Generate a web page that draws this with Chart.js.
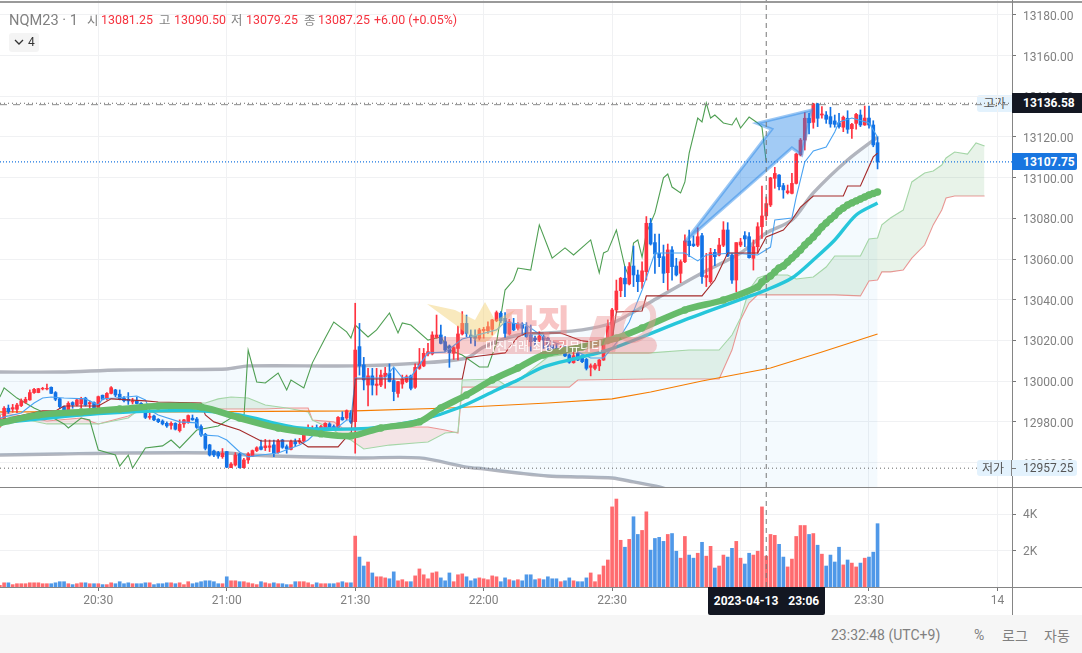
<!DOCTYPE html>
<html lang="ko">
<head>
<meta charset="utf-8">
<title>NQM23 1</title>
<script src="https://cdn.jsdelivr.net/npm/chart.js@4"></script>
<style>
  html, body { margin: 0; padding: 0; background: #fff; }
  body { width: 1082px; height: 653px; overflow: hidden; position: relative;
         font-family: Roboto, "Noto Sans CJK KR", sans-serif; color: #808080; }
  canvas { position: absolute; left: 0; }
  .abs { position: absolute; white-space: nowrap; }
  .rule { position: absolute; background: #858585; }
  .head { position: absolute; top: 12px; font-size: 12.4px; line-height: 16px; white-space: nowrap; }
  .red { color: #f5333f; }
  .gray { color: #808080; font-family: "Noto Sans CJK KR", Roboto, sans-serif; }
  .tag { position: absolute; font-size: 12px; line-height: 16px; white-space: nowrap; }
  .foot { position: absolute; top: 627px; font-size: 14px; line-height: 16px; color: #808080; white-space: nowrap; }
</style>
</head>
<body>
<div class="tag" id="highName" style="left:977px;width:35px;height:17px;background:#e3f2fd;border-radius:3px 0 0 3px;color:#555;text-align:center;font-family:'Noto Sans CJK KR'">고가</div>
<canvas id="priceCanvas" width="1082" height="487" style="top:0"></canvas>
<canvas id="volumeCanvas" width="1082" height="128" style="top:487px"></canvas>

<div class="rule" style="left:0;top:1px;width:1082px;height:2px;background:#9a9a9a"></div>
<div class="rule" style="left:0;top:487px;width:1082px;height:1px"></div>
<div class="rule" style="left:0;top:587px;width:1082px;height:1px"></div>
<div class="rule" style="left:1012px;top:0;width:1px;height:615px"></div>
<div class="abs" style="left:0;top:615px;width:1082px;height:38px;background:#f6f6f6"></div>

<div class="head" style="left:9px;font-size:14.6px;color:#808080">NQM23 · 1</div>
<div class="head gray" style="left:87px">시</div><div class="head red" style="left:101px">13081.25</div>
<div class="head gray" style="left:159px">고</div><div class="head red" style="left:174px">13090.50</div>
<div class="head gray" style="left:231px">저</div><div class="head red" style="left:246px">13079.25</div>
<div class="head gray" style="left:304px">종</div><div class="head red" style="left:318px">13087.25</div>
<div class="head red" style="left:374px">+6.00 (+0.05%)</div>
<div class="abs" style="left:9px;top:33px;width:30px;height:19px;background:#f4f4f4;border-radius:3px;font-size:12px;line-height:19px;color:#333">
  <svg width="10" height="7" style="position:absolute;left:5px;top:6px"><path d="M1 1 L5 5 L9 1" fill="none" stroke="#333" stroke-width="1.3"/></svg>
  <span style="position:absolute;left:19px">4</span>
</div>

<svg class="abs" width="240" height="62" style="left:425px;top:296px;opacity:.45;pointer-events:none">
  <path d="M2 8 L30 14 L50 24 L60 6 L70 24 L90 14 L70 38 L62 46 L52 46 L32 30 Z" fill="#f1cf6e"/>
  <path d="M160 56 L172 20 L186 20 L174 56 Z M176 56 L188 20 L202 20 L190 56 Z" fill="#ee9a9a"/>
  <ellipse cx="212" cy="26" rx="14" ry="20" fill="none" stroke="#ee9a9a" stroke-width="6" transform="rotate(35 212 26)"/>
</svg>
<div class="abs" style="left:504px;top:296px;font-size:36px;line-height:44px;font-weight:900;color:#f28b8b;opacity:.5;font-family:'Noto Sans CJK KR';transform:scaleY(1.2);transform-origin:top left">마진</div>
<div class="abs" style="left:430px;top:337px;width:227px;height:17px;border-radius:4px 9px 9px 4px;background:rgba(232,90,90,.3);color:#fff;font-size:12px;line-height:17px;text-align:center;font-family:'Noto Sans CJK KR'">마진거래 최강 커뮤니티</div>

<div class="tag" id="highTag" style="left:1012px;width:70px;height:20px;line-height:20px;background:#131722;color:#fff;font-weight:700;text-indent:11px">13136.58</div>
<div class="tag" id="lastTag" style="left:1012px;width:65px;height:17px;line-height:18px;background:#1976e0;color:#fff;font-weight:700;text-indent:11px;border-radius:0 2px 2px 0">13107.75</div>
<div class="tag" id="lowTag" style="left:977px;width:100px;height:16px;background:#e3f2fd;color:#555;border-radius:3px">
  <span style="position:absolute;left:5px;font-family:'Noto Sans CJK KR'">저가</span>
  <span style="position:absolute;left:34px;top:0;width:1px;height:16px;background:#858585"></span>
  <span style="position:absolute;left:35px;top:8px;width:4px;height:1px;background:#777"></span>
  <span style="position:absolute;left:46px">12957.25</span>
</div>
<div class="abs" style="left:708px;top:587px;width:117px;height:28px;line-height:28px;background:#131722;color:#fff;font-size:12px;font-weight:700;text-align:center;border-radius:0 0 2px 2px;word-spacing:7px">2023-04-13 23:06</div>

<div class="foot" style="left:831px">23:32:48 (UTC+9)</div>
<div class="foot" style="left:974px">%</div>
<div class="foot" style="left:1002px;font-family:'Noto Sans CJK KR'">로그</div>
<div class="foot" style="left:1044px;font-family:'Noto Sans CJK KR'">자동</div>

<script>
(function () {
  'use strict';

  // minutes counted from 20:30, one candle per minute
  var firstMinute = -23;
  var viewMin = -22.96;
  var viewMax = 213.4;

  var priceTicks = [13180, 13160, 13140, 13120, 13100, 13080, 13060, 13040, 13020, 13000, 12980, 12960];
  var volumeTicks = [2000, 4000];
  var volumeTickLabels = ['2K', '4K'];
  var timeTicks = [0, 30, 60, 90, 120, 150, 180, 210];
  var timeTickLabels = ['20:30', '21:00', '21:30', '22:00', '22:30', '23:00', '23:30', '14'];

  var candleOpen = [
    12978, 12980.1, 12986.7, 12986.3, 12986.2, 12988, 12989.6, 12990.8, 12994.4, 12994.4,
    12996.2, 12996.2, 12997, 12994.4, 12991.4, 12987.5, 12985.9, 12989.5, 12988.3, 12988.8,
    12991.7, 12988.8, 12989.5, 12986.2, 12993.1, 12991.6, 12994, 12995.7, 12993.6, 12991.6,
    12991.1, 12989.8, 12990.3, 12989.1, 12986.7, 12982.2, 12982.9, 12981.3, 12980.4, 12979.3,
    12978.3, 12979.3, 12975.7, 12979, 12980.1, 12981.8, 12981.4, 12977.7, 12973.9, 12968.7,
    12965.7, 12964.9, 12962.9, 12965.4, 12957.5, 12958.8, 12964.2, 12957.5, 12961.3, 12963.2,
    12965.9, 12967.8, 12967.3, 12967.5, 12968.7, 12964.9, 12971.1, 12967.8, 12966.5, 12970.3,
    12970.1, 12970.5, 12974.7, 12975.7, 12977.2, 12976, 12976, 12979, 12977.7, 12977.3,
    12982.2, 12981.9, 12984.5, 12980.1, 13017, 13008, 12998.1, 13002.6, 12997.9, 12998.1,
    13002.2, 13003.9, 13000.3, 12994, 12998.6, 12999.8, 13002.6, 12997, 13006.3, 13007.5,
    13013.4, 13013.4, 13021.5, 13022.7, 13019.4, 13017.3, 13013.7, 13016.1, 13023.2, 13028.4,
    13022.7, 13022.2, 13021.1, 13024.8, 13024.8, 13025.5, 13029.7, 13033.4, 13030.9, 13023.2,
    13028.4, 13026, 13028.1, 13026.8, 13022.7, 13021.1, 13020.2, 13021.9, 13021.1, 13017.8,
    13016.1, 13015, 13015.8, 13012.9, 13009.1, 13013.7, 13012.4, 13010.7, 13006.8, 13006.3,
    13007.5, 13010.4, 13018.6, 13019.9, 13035, 13044.5, 13050.6, 13047.8, 13056.6, 13052.2,
    13048.9, 13053.8, 13077.6, 13068.1, 13062.8, 13061.2, 13053.3, 13064.5, 13056.6, 13053,
    13058.7, 13068.9, 13067.4, 13066.8, 13071.5, 13051, 13048.9, 13063.3, 13062, 13066.8,
    13074.3, 13062, 13049.7, 13066.9, 13071.5, 13071, 13060.4, 13066.1, 13075.9, 13081.25,
    13086.6, 13099.7, 13101.3, 13096.1, 13092.6, 13092.3, 13097.2, 13111.2, 13118.5, 13129.2,
    13127.2, 13136.25, 13130.8, 13130.8, 13130, 13127.9, 13127, 13124.8, 13129.2, 13124.1,
    13126.7, 13130.8, 13125.9, 13129.3, 13125.9, 13117.2
  ];
  var candleHigh = [
    12983.4, 12987.5, 12988.3, 12988.6, 12989.1, 12991.3, 12992.1, 12995.7, 12996.5, 12996.5,
    12997, 12998.6, 12997.2, 12994.9, 12991.6, 12987.8, 12989.9, 12989.9, 12991.1, 12992.1,
    12992.1, 12990.3, 12989.8, 12992.7, 12993.2, 12994.4, 12997.3, 12996, 12995.7, 12992.4,
    12994.4, 12991.6, 12992.1, 12989.5, 12987.5, 12984.2, 12983.4, 12981.6, 12981, 12980,
    12980, 12979.6, 12981, 12981.3, 12983.4, 12983.4, 12982.2, 12978.5, 12974.4, 12969,
    12966.2, 12965.5, 12966.9, 12965.5, 12960, 12964.9, 12964.6, 12962.1, 12964.9, 12966.2,
    12967.8, 12971.1, 12971.4, 12971.1, 12971.1, 12971.4, 12971.4, 12968.7, 12971.1, 12971.6,
    12971.9, 12976, 12978.5, 12978, 12978.5, 12978.3, 12979.6, 12979.6, 12978.5, 12982.6,
    12985, 12985.9, 12985.5, 13038.3, 13028.4, 13011.7, 13006.3, 13006.3, 13006.3, 13005.5,
    13006.8, 13008.5, 13006.3, 12999.9, 13003, 13003, 13003, 13008.5, 13016.1, 13016.1,
    13018.6, 13024.3, 13032.5, 13027.6, 13021.9, 13017.8, 13017, 13027.1, 13034.2, 13032.5,
    13025.2, 13025.2, 13026, 13026.5, 13029.2, 13030.4, 13034.5, 13034.2, 13033.7, 13030.4,
    13030.9, 13028.8, 13028.8, 13028.8, 13027.6, 13022.2, 13024.3, 13022.7, 13021.5, 13019.4,
    13018.6, 13017.8, 13016.1, 13013.4, 13014.5, 13014, 13012.9, 13011.2, 13008.5, 13008.8,
    13010.7, 13020.6, 13030.1, 13035.8, 13049.7, 13051, 13056.3, 13058.3, 13066.4, 13054.6,
    13058.7, 13080.9, 13080, 13072.3, 13072.3, 13066.9, 13067.4, 13066.1, 13060.4, 13059.6,
    13071.9, 13074.3, 13071.4, 13075.4, 13072.7, 13062.8, 13065.3, 13064.8, 13070.2, 13078.4,
    13077.9, 13062.8, 13068.1, 13070.2, 13073.5, 13073, 13069.4, 13077.9, 13095.9, 13090.5,
    13100.2, 13105.1, 13101.5, 13097.2, 13096.4, 13102.1, 13112, 13119.3, 13132, 13131.6,
    13136.58, 13136.58, 13134.9, 13132.5, 13134.6, 13130.8, 13131.6, 13130.3, 13132.9, 13126.7,
    13131.6, 13133.3, 13135.2, 13135.2, 13128, 13120.2
  ];
  var candleLow = [
    12977.3, 12979.3, 12984.2, 12984.7, 12984.5, 12987.5, 12989.1, 12990.6, 12994, 12994.3,
    12995.7, 12995.7, 12993.9, 12990.4, 12986.7, 12984.2, 12985.5, 12986.7, 12987.8, 12986.7,
    12987.8, 12985.4, 12985.9, 12985.9, 12990.8, 12990.8, 12993.7, 12992.4, 12990.8, 12989.8,
    12988.6, 12988.8, 12988.8, 12985.4, 12981.6, 12981.3, 12980.6, 12979.6, 12978.5, 12977.3,
    12976.4, 12976, 12975, 12977.3, 12979.3, 12980.8, 12976.8, 12972.8, 12966.2, 12963.2,
    12962.9, 12962.1, 12962.1, 12957.5, 12957.5, 12958.3, 12957.25, 12957.25, 12959.6, 12962.9,
    12965.4, 12966.2, 12965.9, 12965.4, 12962.9, 12964.6, 12967, 12964.6, 12966.2, 12967.8,
    12969.2, 12970.1, 12974.1, 12974.4, 12975.7, 12975.4, 12975.7, 12975.7, 12976.4, 12976.8,
    12980.8, 12981, 12979.3, 12964.6, 13003, 12995.7, 12987.8, 12993.2, 12993.2, 12997.3,
    12996.5, 12999.6, 12990.4, 12992.1, 12996.5, 12999.3, 12995.7, 12996.5, 13005.8, 13007.1,
    13012.4, 13012.9, 13021.1, 13018.3, 13014.5, 13006.8, 13010.7, 13010.4, 13022.7, 13021.9,
    13018.6, 13017.3, 13020.2, 13021.1, 13023.5, 13022.7, 13029.2, 13028.8, 13021.5, 13022.7,
    13024.8, 13025.2, 13022.7, 13021.5, 13014.8, 13017.8, 13019.4, 13016.1, 13014.5, 13014,
    13013.4, 13013.4, 13012, 13008.8, 13008.8, 13010.1, 13009.1, 13005.5, 13002.6, 13005.5,
    13005.2, 13010.2, 13018.3, 13019.4, 13034.2, 13041.5, 13041.5, 13047.3, 13046.5, 13044,
    13045.6, 13049.7, 13066.9, 13053, 13056.3, 13048.4, 13044.8, 13049.7, 13051.7, 13048.4,
    13058.3, 13061.2, 13066.1, 13066.1, 13048.1, 13046.5, 13048.1, 13056.8, 13061.5, 13066.1,
    13061.2, 13048.1, 13044, 13066.1, 13066.1, 13060.4, 13054.6, 13062.8, 13070.2, 13079.25,
    13085.8, 13094.8, 13094, 13089.9, 13092, 13092, 13096.9, 13110.7, 13113.6, 13121.5,
    13124.3, 13125.1, 13129.2, 13126.7, 13124.8, 13124.8, 13124.3, 13122.6, 13121.8, 13119.3,
    13123.8, 13125.1, 13125.7, 13124.3, 13115.2, 13104.3
  ];
  var candleClose = [
    12981.8, 12986.7, 12985, 12987, 12988.3, 12990.3, 12991.1, 12994.4, 12996, 12996.3,
    12996.5, 12996.5, 12994, 12991.1, 12987.5, 12985.4, 12989.1, 12988.3, 12990.8, 12991.4,
    12988.3, 12989.5, 12986.2, 12992.4, 12991.1, 12994, 12996.8, 12993.2, 12991.1, 12990.4,
    12990.3, 12990.3, 12989, 12985.9, 12982.2, 12982.7, 12981, 12980.1, 12979, 12978,
    12979.3, 12976.4, 12978.8, 12981, 12983.1, 12981, 12977.3, 12973.6, 12967, 12963.7,
    12963.7, 12963.2, 12964.6, 12957.75, 12959.3, 12963.7, 12957.5, 12961.3, 12964.2, 12965.9,
    12967.3, 12966.5, 12968.2, 12968.2, 12964.6, 12970.6, 12967.5, 12966.7, 12970.3, 12969.2,
    12970.8, 12975.5, 12976.8, 12976.8, 12976.4, 12977.7, 12979.3, 12976.4, 12976.7, 12982.2,
    12981, 12985.5, 12979.9, 13015.3, 13007.5, 13000.6, 13002.6, 12998.1, 12998.6, 13003,
    13003.9, 12999.8, 12994.9, 12999.8, 13000.9, 13002.2, 12996.5, 13006.8, 13008.5, 13013.7,
    13014.5, 13022.7, 13022.7, 13018.6, 13015.3, 13014, 13016.5, 13023.2, 13028.4, 13023.5,
    13021.5, 13021.1, 13025.2, 13025.5, 13026.8, 13030.1, 13033.7, 13029.7, 13023.5, 13029.2,
    13025.2, 13027.9, 13026, 13021.9, 13019.4, 13019.9, 13022.2, 13020.2, 13017.8, 13016.1,
    13014, 13015.8, 13012.4, 13009.3, 13012.5, 13010.4, 13009.6, 13006.3, 13007.6, 13008,
    13010.4, 13018.6, 13027.1, 13035, 13044.3, 13050.6, 13047.8, 13056.3, 13052.2, 13048.9,
    13054.2, 13077.6, 13067.4, 13062.5, 13060.7, 13053, 13064.5, 13056.3, 13052.2, 13058.7,
    13068.9, 13066.6, 13066.6, 13071, 13051.4, 13051.9, 13063.2, 13061.2, 13066.9, 13074.3,
    13061.5, 13049.7, 13068.1, 13068.4, 13069.9, 13060.7, 13066.1, 13075.9, 13081.2, 13087.25,
    13099.9, 13102.1, 13095.6, 13094, 13093.5, 13097.2, 13111.6, 13118.5, 13129.2, 13127,
    13136.25, 13129.2, 13131.3, 13128.7, 13126.4, 13126.2, 13125.1, 13129.7, 13123.8, 13126.2,
    13131.1, 13125.9, 13129.3, 13125.9, 13116.1, 13107.75
  ];
  var volumes = [
    90, 230, 230, 130, 180, 180, 180, 230, 230, 230,
    180, 180, 180, 230, 290, 290, 180, 130, 180, 230,
    230, 180, 180, 180, 130, 130, 230, 180, 290, 180,
    230, 180, 180, 180, 230, 230, 130, 180, 180, 230,
    230, 180, 230, 130, 290, 180, 230, 290, 340, 340,
    290, 180, 180, 560, 340, 340, 290, 290, 230, 180,
    130, 290, 230, 180, 230, 180, 180, 130, 130, 290,
    290, 290, 230, 130, 230, 180, 180, 180, 180, 230,
    290, 230, 230, 2790, 1640, 1150, 1370, 770, 560, 560,
    500, 450, 830, 340, 400, 290, 290, 610, 990, 670,
    450, 770, 830, 500, 340, 770, 290, 670, 720, 560,
    340, 450, 500, 450, 400, 610, 560, 290, 500, 400,
    340, 400, 340, 670, 670, 400, 450, 400, 560, 450,
    450, 290, 340, 500, 340, 290, 290, 500, 770, 290,
    670, 1150, 1480, 4390, 4820, 2560, 2180, 2610, 3850, 2880,
    3100, 4120, 2020, 2660, 2720, 2500, 2880, 2930, 1960, 1580,
    2770, 1750, 1580, 1850, 2450, 1690, 2230, 1040, 1150, 1750,
    1640, 2120, 2500, 1580, 1260, 1850, 1750, 1960, 4390, 1690,
    2880, 2830, 2340, 1640, 1100, 1530, 2770, 3370, 3370, 2880,
    2930, 2290, 1800, 1150, 1750, 1370, 2180, 1210, 1480, 1310,
    1100, 1310, 1580, 1640, 1910, 3470
  ];

  var bandMinutes = [-23, -9, 5, 30, 35, 60, 75, 86, 90, 98, 105, 113, 120, 125, 131, 141, 150, 156, 162, 167, 175, 182];
  var bandUpper = [13004.5, 13004.5, 13005.5, 13006, 13007.5, 13007.5, 13008.9, 13011.4, 13016.8, 13022.7, 13023.7, 13025.2, 13028.6, 13034, 13041.4, 13053.2, 13063, 13072.8, 13079.2, 13092.5, 13108.7, 13120];
  var bandLower = [12963.7, 12964.2, 12964.7, 12964.7, 12963.7, 12962.3, 12962.3, 12957.8, 12956.9, 12954.9, 12953.4, 12952.9, 12952.4, 12950.5, 12948, 12941.6, 12935.7, 12932.8, 12930.8, 12927.9, 12926.9, 12927.9];

  var cloudMinutes = [-23, -12, -4, 0, 7, 10, 14, 25, 28, 31, 35, 39, 44, 49, 50, 55, 57, 59, 62, 68, 74, 77, 81, 84, 85, 93, 95, 99, 102, 105, 110, 112, 129, 138, 145, 148, 150, 152, 154, 156, 161, 163, 167, 170, 172, 178, 180, 182, 183, 185, 188, 190, 193, 195, 197, 198, 200, 203, 205, 207];
  var spanA = [12983.9, 12979, 12979, 12979, 12981.9, 12986.8, 12989.3, 12989.3, 12991.3, 12992.2, 12991.7, 12988.3, 12986.8, 12984.9, 12980.9, 12976, 12972.6, 12971.1, 12966.7, 12968.6, 12969.6, 12970.1, 12974.5, 12975, 13000.6, 13001.1, 12998.1, 13002.1, 13007, 13011.9, 13013.4, 13013.9, 13013.9, 13015.3, 13015.3, 13022.7, 13031.1, 13044.8, 13050.7, 13052.2, 13052.2, 13050.2, 13051.2, 13056.1, 13061.5, 13061.5, 13069.9, 13070.4, 13076.8, 13080.2, 13084.1, 13097.9, 13102.3, 13103.3, 13106.2, 13109.7, 13112.6, 13111.6, 13117.1, 13115.6];
  var spanB = [12984.9, 12980.4, 12981.9, 12979, 12982.9, 12985.8, 12989.3, 12986.3, 12986.3, 12986.3, 12986.3, 12986.3, 12986.8, 12986.8, 12980.9, 12980, 12977, 12977, 12977, 12977.5, 12977.5, 12977.5, 12976, 12974.5, 12997.1, 12997.1, 12997.1, 12997.1, 12997.1, 12997.1, 12997.1, 13000.6, 13001.1, 13001.1, 13001.1, 13015.3, 13030.1, 13038.4, 13042.4, 13042.4, 13042.4, 13042.4, 13042.4, 13042.4, 13042.4, 13041.9, 13049.2, 13049.7, 13053.7, 13053.7, 13054.6, 13060.5, 13066.9, 13076.8, 13084.1, 13090, 13091, 13091, 13091, 13091];

  var emaMinutes = [-23, -14, -4, 5, 14, 24, 33, 42, 52, 59, 66, 75, 80, 86, 92, 98, 104, 113, 121, 127, 137, 146, 154,
    155, 156, 157, 158, 159, 160, 161, 162, 163, 164, 165, 166, 167, 168, 169, 170, 171, 172, 173, 174, 175, 176, 177, 178, 179, 180, 181, 182];
  var emaGreen = [12979.5, 12983.4, 12984.9, 12986.3, 12987.8, 12987.3, 12981.9, 12977, 12974.1, 12973.1, 12977, 12980, 12986.8, 12993.2, 13000.6, 13006.5, 13012.9, 13016.8, 13021.2, 13026.1, 13035, 13039.9, 13046.3,
    13048.75, 13050.2, 13051.7, 13053.7, 13055.6, 13056.6, 13058.6, 13060.5, 13062.5, 13064.5, 13066.9, 13068.9, 13070.9, 13073.3, 13075.8, 13077.7, 13079.7, 13081.4, 13083.6, 13085.1, 13086.6, 13087.6, 13088.6, 13089.5, 13090.5, 13091.5, 13092.2, 13093];

  var emaCyanMinutes = [-23, -4, 14, 24, 33, 47, 60, 66, 76, 84, 93, 98, 104, 112, 119, 127, 137, 151, 156, 162, 167, 172, 177, 182];
  var emaCyan = [12979.5, 12983.4, 12985.4, 12985.4, 12983.4, 12977, 12976.5, 12977.5, 12981.4, 12986.8, 12995.7, 13000.6, 13007, 13011.4, 13015.3, 13021.7, 13030.1, 13040.9, 13044.8, 13050.7, 13059.6, 13069.4, 13081.7, 13087.6];

  var longMaMinutes = [-23, 19, 60, 82, 105, 120, 129, 141, 157, 169, 182];
  var longMa = [12984.9, 12984.9, 12985.4, 12986.8, 12989.3, 12991.3, 12994.7, 13000.1, 13006.5, 13014.3, 13023.2];

  var tenkanMinutes = [-23, -18, -15, -13, -11, -8, -3, 0, 1, 4, 9, 11, 12, 14, 19, 23, 24, 28, 30, 33, 35, 38, 42, 47, 49, 52, 56, 58, 59, 60, 64, 67, 69, 71, 73, 77, 81, 85, 93, 95, 100, 105, 110, 115, 118, 121, 124, 127, 130, 134, 137, 140, 142, 148, 154, 157, 158, 162, 163, 165, 167, 170, 172, 173, 176, 180, 182];
  var tenkan = [12981.9, 12984.4, 12989.3, 12991.7, 12992.2, 12991.7, 12991.3, 12988.3, 12991.3, 12991.7, 12992.7, 12990.8, 12985.8, 12983.4, 12980, 12979.5, 12973.6, 12973.1, 12971.1, 12965.2, 12962.8, 12963.7, 12964.7, 12968.6, 12971.1, 12977, 12977.5, 12980.9, 12980.9, 13001.6, 13001.6, 13001.6, 13007, 13001.6, 13002.1, 13013.9, 13014.3, 13020.7, 13025.2, 13029.1, 13027.6, 13020.2, 13016.3, 13011.4, 13011.4, 13018.8, 13029.1, 13044.8, 13063, 13063, 13063, 13059.1, 13062, 13063, 13062, 13065.9, 13079.2, 13080.2, 13090.5, 13107.7, 13113.1, 13115.1, 13122.5, 13127.4, 13129.3, 13126.9, 13120];

  var kijunMinutes = [-23, -13, -10, -8, 0, 3, 11, 14, 24, 25, 27, 33, 38, 47, 49, 56, 58, 59, 60, 85, 86, 89, 95, 98, 100, 108, 113, 118, 120, 121, 127, 128, 141, 144, 147, 154, 156, 160, 162, 164, 167, 174, 175, 178, 181, 182];
  var kijun = [12980.9, 12985.4, 12985.4, 12987.8, 12987.8, 12991.3, 12990.3, 12989.8, 12989.3, 12983.4, 12980, 12976, 12970.6, 12970.6, 12967.7, 12967.7, 12972.6, 12972.6, 13001.1, 13001.1, 13011.4, 13012.4, 13013.9, 13021.7, 13023.7, 13023.7, 13019.8, 13018.8, 13020.2, 13034, 13034.5, 13041.9, 13041.9, 13049.7, 13063, 13063, 13070.9, 13074.3, 13079.2, 13085.6, 13091, 13091, 13095.9, 13095.9, 13110.2, 13112.1];

  var chikouMinutes = [-23, -22, -19, -15, -13, -8, -7, -4, -2, 0, 4, 5, 7, 8, 11, 15, 17, 19, 23, 28, 31, 34, 35, 37, 39, 42, 44, 45, 48, 50, 53, 55, 58, 59, 60, 63, 65, 68, 70, 71, 73, 77, 80, 82, 85, 89, 91, 93, 95, 97, 98, 101, 103, 106, 109, 111, 115, 117, 118, 119, 121, 123, 124, 125, 126, 127, 128, 130, 132, 133, 134, 136, 137, 138, 140, 141, 142, 143, 144, 146, 148, 149, 150, 152, 154, 155, 156];
  var chikou = [12992.2, 12996.7, 12991.7, 12986.8, 12984.9, 12979, 12977, 12981.9, 12980.9, 12966.2, 12963.7, 12958.3, 12963.7, 12957.3, 12967.2, 12968.2, 12971.1, 12967.2, 12976, 12978, 12981.9, 12981.9, 13015.3, 12999.6, 12999.1, 13004, 12995.7, 13000.6, 12996.7, 13009, 13021.2, 13029.1, 13024.2, 13021.2, 13027.6, 13021.7, 13025.2, 13033.5, 13023.7, 13028.6, 13027.6, 13020.2, 13021.7, 13015.3, 13012.9, 13007, 13007, 13018.8, 13044.8, 13049.7, 13055.6, 13054.6, 13076.8, 13060.5, 13065.5, 13062, 13069.4, 13053.2, 13063, 13064, 13074.3, 13056.1, 13051.2, 13067.9, 13069.4, 13061, 13072.8, 13082.7, 13099.9, 13101.8, 13095.4, 13092.5, 13097.9, 13112.1, 13129.3, 13127.4, 13136.7, 13129.3, 13130.8, 13126.9, 13125.9, 13129.3, 13124.4, 13129.8, 13126.9, 13124.9, 13107.75];

  var arrowMinutes = [137, 157.3, 153.8, 166.6, 164.3, 162, 137];
  var arrowPrices = [13068.4, 13123.8, 13126.7, 13133.3, 13111.2, 13114.6, 13068.4];

  var highPrice = 13136.58;
  var lowPrice = 12957.25;
  var lastPrice = 13107.75;
  var crossMinute = 156;

  var UP = '#ff3340';
  var DOWN = '#1272e6';
  var GRID = '#f0f1f3';

  Chart.defaults.font.family = 'Roboto, sans-serif';
  Chart.defaults.font.size = 12;
  Chart.defaults.color = '#808080';
  Chart.defaults.animation = false;

  function toPoints(xs, ys) {
    return ys.map(function (v, i) {
      return { x: xs[i], y: v };
    });
  }

  function candlePoints(a, b) {
    return a.map(function (v, i) {
      return { x: firstMinute + i, y: [v, b[i]] };
    });
  }

  function candleColor(ctx) {
    var i = ctx.dataIndex;
    return candleClose[i] >= candleOpen[i] ? UP : DOWN;
  }

  function volumeColor(ctx) {
    var i = ctx.dataIndex;
    return candleClose[i] >= candleOpen[i] ? '#ff6b6f' : '#4f98e8';
  }

  function thinLine(xs, ys, color, order) {
    return {
      type: 'line',
      data: toPoints(xs, ys),
      borderColor: color,
      borderWidth: 1.1,
      pointRadius: 0,
      fill: false,
      order: order
    };
  }

  function refLine(price, color, dash, width) {
    return {
      type: 'line',
      data: toPoints([viewMin, viewMax], [price, price]),
      borderColor: color,
      borderWidth: width || 1,
      borderDash: dash,
      pointRadius: 0,
      fill: false,
      order: 0
    };
  }

  function fixAxisWidth(scale) {
    scale.width = 70;
    scale.paddingTop = 0;
    scale.paddingBottom = 0;
  }

  function fixAxisHeight(h) {
    return function (scale) {
      scale.height = h;
      scale.paddingLeft = 0;
      scale.paddingRight = 0;
    };
  }

  var priceDatasets = [
    // bollinger band, filled between upper and lower
    {
      type: 'line',
      data: toPoints(bandMinutes, bandUpper),
      borderColor: '#b2b5be',
      borderWidth: 3.4,
      tension: 0.3,
      pointRadius: 0,
      backgroundColor: 'rgba(33,150,243,0.05)',
      fill: '+1',
      order: 9
    },
    {
      type: 'line',
      data: toPoints(bandMinutes, bandLower),
      borderColor: '#b2b5be',
      borderWidth: 3.4,
      tension: 0.3,
      pointRadius: 0,
      fill: false,
      order: 9
    },
    // ichimoku cloud
    {
      type: 'line',
      data: toPoints(cloudMinutes, spanA),
      borderColor: '#a5d6a7',
      borderWidth: 1.1,
      pointRadius: 0,
      fill: { target: '+1', above: 'rgba(67,160,71,0.12)', below: 'rgba(244,67,54,0.12)' },
      order: 8
    },
    {
      type: 'line',
      data: toPoints(cloudMinutes, spanB),
      borderColor: '#ef9a9a',
      borderWidth: 1.1,
      pointRadius: 0,
      fill: false,
      order: 8
    },
    thinLine(longMaMinutes, longMa, '#f57c00', 7),
    thinLine(chikouMinutes, chikou, '#4f9f53', 7),
    // candles: wick first, body on top
    {
      type: 'bar',
      data: candlePoints(candleLow, candleHigh),
      backgroundColor: candleColor,
      barThickness: 1,
      grouped: false,
      order: 6
    },
    {
      type: 'bar',
      data: candlePoints(candleOpen, candleClose),
      backgroundColor: candleColor,
      barThickness: 3,
      grouped: false,
      order: 5
    },
    thinLine(kijunMinutes, kijun, '#a52a2a', 4),
    thinLine(tenkanMinutes, tenkan, '#4aa3f2', 4),
    {
      type: 'line',
      data: toPoints(emaMinutes, emaGreen),
      borderColor: '#66bb6a',
      borderWidth: 6.5,
      tension: 0.3,
      pointRadius: 3.7,
      pointBackgroundColor: '#66bb6a',
      pointBorderWidth: 0,
      fill: false,
      order: 3
    },
    {
      type: 'line',
      data: toPoints(emaCyanMinutes, emaCyan),
      borderColor: '#26c6da',
      borderWidth: 3.4,
      tension: 0.3,
      pointRadius: 0,
      fill: false,
      order: 3.5
    },
    // arrow drawing on the chart
    {
      type: 'line',
      data: toPoints(arrowMinutes, arrowPrices),
      borderColor: 'rgba(33,130,230,0.45)',
      borderWidth: 3,
      backgroundColor: 'rgba(33,130,230,0.42)',
      pointRadius: 0,
      fill: 'shape',
      order: 1
    },
    refLine(highPrice, '#666', [1, 3]),
    refLine(highPrice - 0.7, '#8a8a8a', [7, 6]),
    refLine(lowPrice, '#666', [1, 3]),
    refLine(lastPrice, '#1976e0', [1, 2], 1.2),
    {
      type: 'line',
      data: toPoints([crossMinute, crossMinute], [12948, 13187.3]),
      borderColor: '#777',
      borderWidth: 1,
      borderDash: [5, 4],
      pointRadius: 0,
      fill: false,
      order: 0
    }
  ];

  var priceChart = new Chart(document.getElementById('priceCanvas'), {
    type: 'bar',
    data: { datasets: priceDatasets },
    options: {
      responsive: false,
      events: [],
      layout: { padding: 0, autoPadding: false },
      plugins: { legend: { display: false }, tooltip: { enabled: false } },
      scales: {
        x: {
          type: 'linear',
          min: viewMin,
          max: viewMax,
          offset: false,
          grid: { color: GRID, drawTicks: false, offset: false },
          border: { display: false },
          ticks: { display: false },
          afterBuildTicks: function (scale) {
            scale.ticks = timeTicks.map(function (v) { return { value: v }; });
          },
          afterFit: fixAxisHeight(0)
        },
        y: {
          position: 'right',
          min: 12948,
          max: 13187.32,
          grid: { color: GRID, tickLength: 4, tickColor: '#777' },
          border: { display: false },
          ticks: {
            padding: 7,
            labelOffset: 2,
            callback: function (v) { return v.toFixed(2); }
          },
          afterBuildTicks: function (scale) {
            scale.ticks = priceTicks.map(function (v) { return { value: v }; });
          },
          afterFit: fixAxisWidth
        }
      }
    }
  });

  new Chart(document.getElementById('volumeCanvas'), {
    type: 'bar',
    data: {
      datasets: [
        {
          data: volumes.map(function (v, i) { return { x: firstMinute + i, y: v }; }),
          backgroundColor: volumeColor,
          barThickness: 3,
          order: 2
        },
        {
          type: 'line',
          data: toPoints([crossMinute, crossMinute], [0, 5480]),
          borderColor: '#777',
          borderWidth: 1,
          borderDash: [5, 4],
          pointRadius: 0,
          order: 1
        }
      ]
    },
    options: {
      responsive: false,
      events: [],
      layout: { padding: 0, autoPadding: false },
      plugins: { legend: { display: false }, tooltip: { enabled: false } },
      scales: {
        x: {
          type: 'linear',
          min: viewMin,
          max: viewMax,
          offset: false,
          grid: { color: GRID, tickLength: 4, tickColor: '#777', offset: false },
          border: { display: false },
          ticks: {
            padding: 3,
            autoSkip: false,
            maxRotation: 0,
            callback: function (v, i) { return timeTickLabels[i]; }
          },
          afterBuildTicks: function (scale) {
            scale.ticks = timeTicks.map(function (v) { return { value: v }; });
          },
          afterFit: fixAxisHeight(28)
        },
        y: {
          position: 'right',
          min: 0,
          max: 5480,
          grid: { color: GRID, tickLength: 4, tickColor: '#777' },
          border: { display: false },
          ticks: {
            padding: 7,
            labelOffset: 1,
            callback: function (v, i) { return volumeTickLabels[i]; }
          },
          afterBuildTicks: function (scale) {
            scale.ticks = volumeTicks.map(function (v) { return { value: v }; });
          },
          afterFit: fixAxisWidth
        }
      }
    }
  });

  // price tags follow the price scale
  function placeTag(id, price, h) {
    var y = priceChart.scales.y.getPixelForValue(price);
    document.getElementById(id).style.top = Math.round(y - h / 2) + 'px';
  }
  placeTag('highName', highPrice, 17);
  placeTag('highTag', highPrice, 20);
  placeTag('lastTag', lastPrice, 17);
  placeTag('lowTag', lowPrice, 16);
})();
</script>
</body>
</html>
